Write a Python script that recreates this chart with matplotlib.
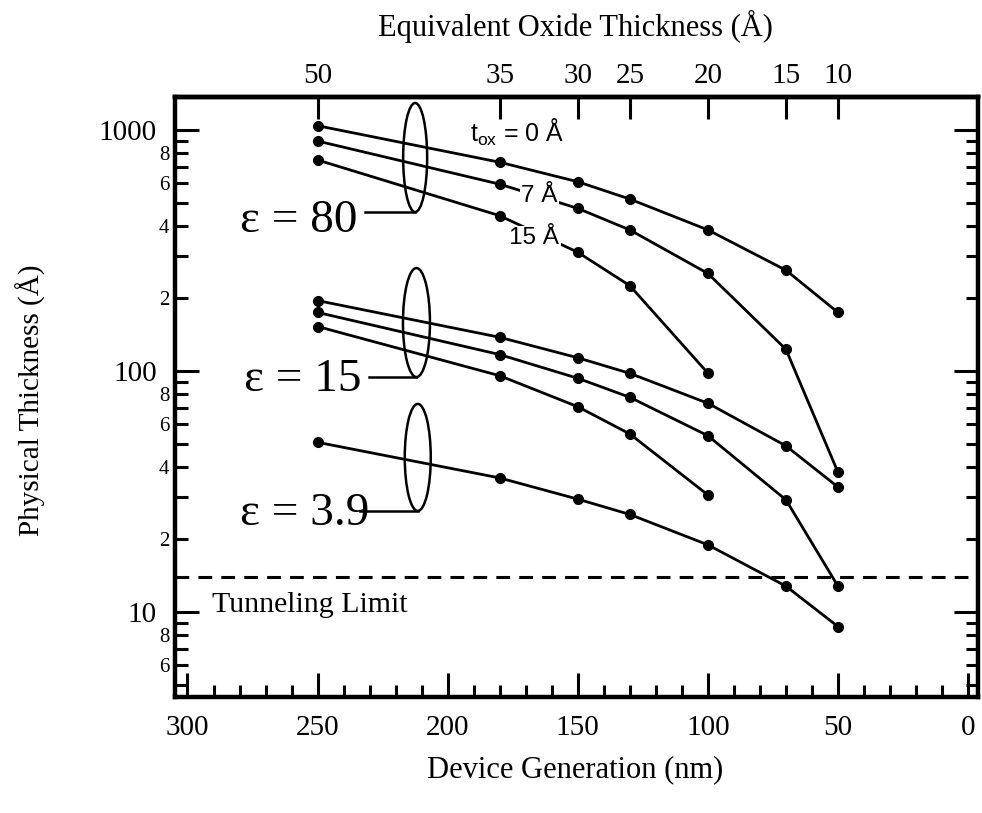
import numpy as np
import matplotlib.pyplot as plt
from matplotlib.patches import Ellipse
from matplotlib.transforms import ScaledTranslation
from matplotlib.ticker import MultipleLocator, FixedLocator, FuncFormatter

plt.rcParams['font.family'] = ['Liberation Serif', 'DejaVu Serif']
plt.rcParams['mathtext.fontset'] = 'custom'
plt.rcParams['mathtext.rm'] = 'Liberation Sans'
plt.rcParams['mathtext.it'] = 'Liberation Sans'

# device generation (nm) and matching equivalent oxide thickness (A)
gen = [250, 180, 150, 130, 100, 70, 50]
eot_labels = ['50', '35', '30', '25', '20', '15', '10']

# physical thickness (A)
k80_t0 = [1042, 735, 610, 517, 385, 262, 175]
k80_t7 = [900, 596, 473, 385, 254, 123, 38]
k80_t15 = [751, 441, 311, 226, 98]
k15_t0 = [196, 138, 113.5, 97.8, 73.5, 48.9, 33.0]
k15_t7 = [175, 117, 93.3, 77.8, 53.9, 29.2, 12.8]
k15_t15 = [153, 95.6, 71.1, 54.8, 30.6]
k39 = [50.6, 36.0, 29.4, 25.4, 19.0, 12.8, 8.7]
tunnel_limit = 14

series = [k80_t0, k80_t7, k80_t15, k15_t0, k15_t7, k15_t15, k39]

fig = plt.figure(figsize=(9.82, 8.13), dpi=100)
ax = fig.add_axes([0.1782, 0.1427, 0.8177, 0.738])

for y in series:
    ax.plot(gen[:len(y)], y, 'o-', color='k', lw=2, ms=7, zorder=3)

ax.axhline(tunnel_limit, color='k', lw=2.2, ls=(0, (4.5, 3)))
ax.text(290.6, 10, 'Tunneling Limit', fontsize=21.5, ha='left', va='baseline')

ax.set_yscale('log')

ax.xaxis.set_major_locator(MultipleLocator(50))
ax.xaxis.set_minor_locator(MultipleLocator(10))
ax.yaxis.set_major_locator(FixedLocator([10, 100, 1000]))
ax.yaxis.set_major_formatter(FuncFormatter(lambda v, _: '%d' % v))
ax.yaxis.set_minor_locator(FixedLocator([m * 10 ** e for e in range(3) for m in range(2, 10)]))


def minor_fmt(v, _):
    m = int(round(v / 10 ** np.floor(np.log10(v))))
    return str(m) if m in (2, 4, 6, 8) else ''


ax.yaxis.set_minor_formatter(FuncFormatter(minor_fmt))

ax.tick_params(which='both', direction='in', top=False, right=True, width=2.2, labelsize=21)
ax.tick_params(which='major', length=17)
ax.tick_params(which='minor', length=9)
ax.tick_params(axis='y', which='major', pad=13)
ax.tick_params(axis='y', which='minor', labelsize=15, pad=4)
ax.tick_params(axis='x', which='major', pad=13)
for s in ax.spines.values():
    s.set_linewidth(3.2)

secax = ax.secondary_xaxis('top')
secax.set_xticks(gen, labels=eot_labels)
secax.tick_params(direction='in', length=16, width=2.2, labelsize=21, pad=6)
secax.spines['top'].set_linewidth(3.2)

# tox labels on the eps = 80 curves
ax.text(191.3, 891, r'$\mathregular{t_{ox}}$ = 0 Å', family='Liberation Sans', fontsize=18, ha='left', va='baseline')
for xt, yt, s in [(164.8, 532, '7 Å'), (166.7, 356, '15 Å')]:
    ax.text(xt, yt, s, family='Liberation Sans', fontsize=17.5, ha='center', va='center', zorder=4,
            bbox=dict(facecolor='white', edgecolor='none', pad=1))


def eps_group(xc, yc, w, h, lead, tx, ty, label):
    tr = fig.dpi_scale_trans + ScaledTranslation(xc, yc, ax.transData)
    ax.add_patch(Ellipse((0, 0), w, h, transform=tr, fill=False, lw=1.8, color='k', zorder=5))
    ax.plot([-lead, 0], [-h / 2, -h / 2], transform=tr, color='k', lw=1.8, zorder=5)
    ax.text(-tx, -ty, label, transform=tr, fontsize=34, ha='right', va='center')


eps_group(212.5, 769, 0.24, 1.09, 0.50, 0.58, 0.63, 'ε = 80')
eps_group(212.0, 158.9, 0.27, 1.09, 0.47, 0.545, 0.575, 'ε = 15')
eps_group(211.5, 43.8, 0.26, 1.07, 0.58, 0.48, 0.565, 'ε = 3.9')

ax.set_xlim(304.8, -3.8)
ax.set_ylim(4.44, 1371)

fig.text(575 / 982, 1 - 770 / 813, 'Device Generation (nm)', fontsize=22, ha='center', va='center')
fig.text(575 / 982, 1 - 26 / 813, 'Equivalent Oxide Thickness (Å)', fontsize=22, ha='center', va='center')
fig.text(31 / 982, 1 - 400 / 813, 'Physical Thickness (Å)', fontsize=21, ha='center', va='center', rotation=90)

fig.savefig('out.png', dpi=100)
